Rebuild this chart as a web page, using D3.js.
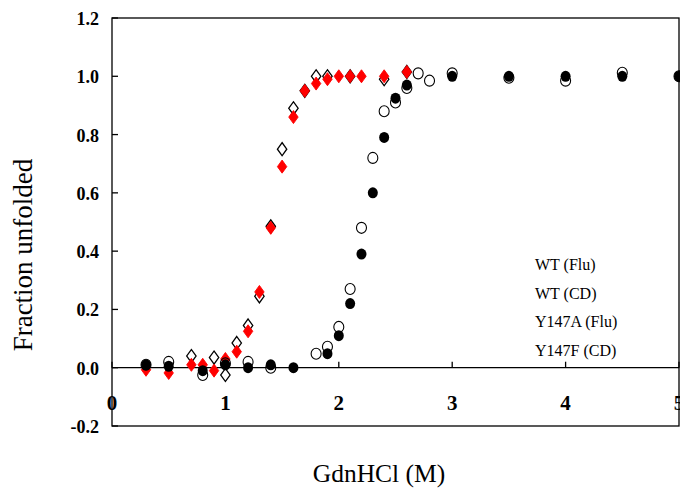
<!DOCTYPE html>
<html>
<head>
<meta charset="utf-8">
<script src="https://cdn.jsdelivr.net/npm/d3@7"></script>
<style>
  body { margin: 0; background: #fff; }
  text { font-family: "Liberation Serif", "Times New Roman", serif; }
</style>
</head>
<body>
<div id="app"></div>
<script>
// series data (GdnHCl in M, fraction unfolded)
var wtFluX = [0.3, 0.5, 0.8, 1.0, 1.2, 1.4, 1.8, 1.9, 2.0, 2.1, 2.2, 2.3, 2.4, 2.5, 2.6, 2.7, 2.8, 3.0, 3.5, 4.0, 4.5, 5.0]
var wtFluY = [0.01, 0.02, -0.025, 0.015, 0.02, 0.0, 0.048, 0.072, 0.14, 0.27, 0.48, 0.72, 0.88, 0.91, 0.96, 1.01, 0.985, 1.01, 0.995, 0.985, 1.012, 1.0]

var wtCdX = [0.3, 0.5, 0.8, 1.0, 1.2, 1.4, 1.6, 1.9, 2.0, 2.1, 2.2, 2.3, 2.4, 2.5, 2.6, 3.0, 3.5, 4.0, 4.5, 5.0]
var wtCdY = [0.01, 0.005, -0.01, 0.01, 0.0, 0.01, 0.0, 0.048, 0.11, 0.22, 0.39, 0.60, 0.79, 0.925, 0.97, 1.0, 1.0, 1.0, 1.0, 1.0]

var y147aX = [0.7, 0.9, 1.0, 1.1, 1.2, 1.3, 1.4, 1.5, 1.6, 1.7, 1.8, 1.9, 2.1, 2.4, 2.6]
var y147aY = [0.04, 0.035, -0.025, 0.085, 0.145, 0.245, 0.485, 0.75, 0.89, 0.95, 1.0, 1.0, 1.0, 0.99, 1.015]

var y147fX = [0.3, 0.5, 0.7, 0.8, 0.9, 1.0, 1.1, 1.2, 1.3, 1.4, 1.5, 1.6, 1.7, 1.8, 1.9, 2.0, 2.1, 2.2, 2.4, 2.6]
var y147fY = [-0.007, -0.018, 0.01, 0.01, -0.01, 0.03, 0.055, 0.125, 0.26, 0.48, 0.69, 0.86, 0.95, 0.975, 0.99, 1.0, 1.0, 1.0, 1.0, 1.015]

var legendLabels = ["WT (Flu)", "WT (CD)", "Y147A (Flu)", "Y147F (CD)"]
var xTicks = [0, 1, 2, 3, 4, 5]
var yTicks = [-0.2, 0, 0.2, 0.4, 0.6, 0.8, 1.0, 1.2]

var w = 680, h = 491
const padL = 112, padR = 679, padT = 18, padB = 426

const svg = d3.select("#app").append("svg")
    .attr("width", w)
    .attr("height", h)

const xScale = d3.scaleLinear().domain([0, 5]).range([padL, padR])
const yScale = d3.scaleLinear().domain([-0.2, 1.2]).range([padB, padT])

// frame
svg.append("rect")
    .attr("x", padL).attr("y", padT)
    .attr("width", padR - padL).attr("height", padB - padT)
    .attr("fill", "none").attr("stroke", "#000").attr("stroke-width", 1.3)

// y axis ticks inward, labels on the left
svg.selectAll(".ytick").data(yTicks).enter().append("line")
    .attr("x1", padL).attr("x2", padL + 6)
    .attr("y1", d => yScale(d)).attr("y2", d => yScale(d))
    .attr("stroke", "#000").attr("stroke-width", 1.3)
svg.selectAll(".ylab").data(yTicks).enter().append("text")
    .attr("x", 99).attr("y", d => yScale(d) + 7)
    .attr("text-anchor", "end")
    .attr("font-weight", "bold").attr("font-size", 18)
    .text(d => d.toFixed(1))

// x axis at zero
svg.append("line")
    .attr("x1", padL).attr("x2", padR)
    .attr("y1", yScale(0)).attr("y2", yScale(0))
    .attr("stroke", "#000").attr("stroke-width", 1.3)
svg.selectAll(".xtick").data(xTicks).enter().append("line")
    .attr("x1", d => xScale(d)).attr("x2", d => xScale(d))
    .attr("y1", yScale(0)).attr("y2", yScale(0) - 6)
    .attr("stroke", "#000").attr("stroke-width", 1.3)
svg.selectAll(".xlab").data(xTicks).enter().append("text")
    .attr("x", d => xScale(d)).attr("y", yScale(0) + 42)
    .attr("text-anchor", "middle")
    .attr("font-weight", "bold").attr("font-size", 21)
    .text(d => d)

// axis titles
svg.append("text")
    .attr("x", 379).attr("y", 482)
    .attr("text-anchor", "middle").attr("font-size", 25.5)
    .text("GdnHCl (M)")
svg.append("text")
    .attr("transform", "translate(32,255) rotate(-90)")
    .attr("text-anchor", "middle").attr("font-size", 27)
    .text("Fraction unfolded")

const plot = svg.append("g")
const diamond = d3.symbol().type(d3.symbolDiamond).size(49)

function pts(xs, ys) { return xs.map((v, i) => [v, ys[i]]) }

// open diamonds
plot.selectAll(".dOpen").data(pts(y147aX, y147aY)).enter().append("path")
    .attr("d", diamond)
    .attr("transform", d => "translate(" + xScale(d[0]) + "," + yScale(d[1]) + ") scale(1.25,1)")
    .attr("fill", "#fff").attr("stroke", "#000").attr("stroke-width", 1.1)
// red diamonds
plot.selectAll(".dRed").data(pts(y147fX, y147fY)).enter().append("path")
    .attr("d", diamond)
    .attr("transform", d => "translate(" + xScale(d[0]) + "," + yScale(d[1]) + ") scale(1.25,1)")
    .attr("fill", "#ff0000").attr("stroke", "#ff0000").attr("stroke-width", 0.8)
// filled circles
plot.selectAll(".cFill").data(pts(wtCdX, wtCdY)).enter().append("ellipse")
    .attr("cx", d => xScale(d[0])).attr("cy", d => yScale(d[1]))
    .attr("rx", 5).attr("ry", 5.5)
    .attr("fill", "#000")
// open circles
plot.selectAll(".cOpen").data(pts(wtFluX, wtFluY)).enter().append("ellipse")
    .attr("cx", d => xScale(d[0])).attr("cy", d => yScale(d[1]))
    .attr("rx", 5).attr("ry", 5.5)
    .attr("fill", "none").attr("stroke", "#000").attr("stroke-width", 1.1)

// legend (text only)
svg.selectAll(".leg").data(legendLabels).enter().append("text")
    .attr("x", 535).attr("y", (d, i) => 270 + i * 28.5)
    .attr("font-size", 16)
    .text(d => d)
</script>
</body>
</html>
